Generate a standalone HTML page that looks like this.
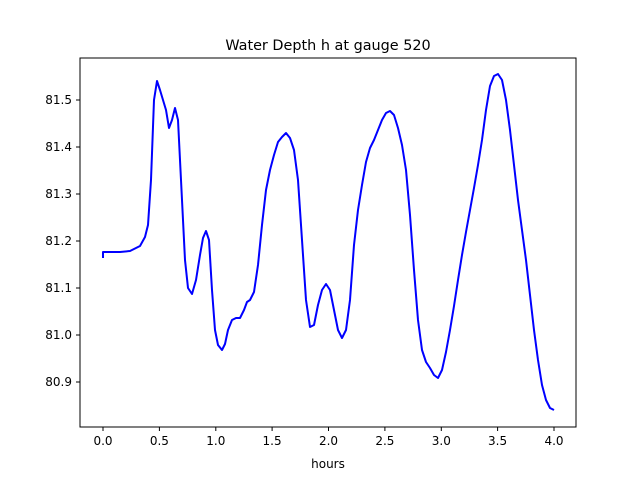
<!DOCTYPE html>
<html><head><meta charset="utf-8"><style>
html,body{margin:0;padding:0;background:#fff;}
svg{display:block;font-family:"DejaVu Sans","Liberation Sans",sans-serif;}
</style></head><body>
<svg width="640" height="480" viewBox="0 0 640 480" xmlns="http://www.w3.org/2000/svg">
<rect width="640" height="480" fill="#fff"/>
<text x="328" y="50" font-size="14.4" text-anchor="middle">Water Depth h at gauge 520</text>
<polyline fill="none" stroke="#0000ff" stroke-width="2" stroke-linejoin="round" points="103,258 103,252 120,252 130,251 140,246 145,237 148,225 151,180 154,100 157,81 160,90 163,100 166,110 169,128 172,120 175,108 178,120 181,180 185,260 188,288 192,294 196,280 200,255 203,238 206,231 209,240 212,290 215,330 218,345 222,350 225,344 228,330 232,320 236,318 240,318 244,310 247,302 250,300 254,292 258,265 262,225 266,190 270,170 274,155 278,142 282,137 286,133 290,138 294,150 298,180 302,240 306,300 310,327 314,325 318,305 322,290 326,284 330,290 334,310 338,330 342,338 346,330 350,300 354,245 358,210 362,185 366,162 370,148 374,140 378,130 382,120 386,113 390,111 394,115 398,128 402,145 406,170 410,215 414,270 418,320 422,350 426,362 430,368 434,375 438,378 442,370 446,352 450,330 454,306 458,280 462,255 466,232 470,210 474,188 478,165 482,140 486,110 490,86 494,76 498,74 502,80 506,100 510,130 514,165 518,200 522,230 526,260 530,295 534,330 538,360 542,385 546,400 550,408 554,410"/>
<rect x="80" y="58" width="496" height="369" fill="none" stroke="#000" stroke-width="1"/>
<g stroke="#000" stroke-width="1">
<line x1="103" y1="427" x2="103" y2="431"/>
<line x1="159.4" y1="427" x2="159.4" y2="431"/>
<line x1="215.8" y1="427" x2="215.8" y2="431"/>
<line x1="272.1" y1="427" x2="272.1" y2="431"/>
<line x1="328.5" y1="427" x2="328.5" y2="431"/>
<line x1="384.9" y1="427" x2="384.9" y2="431"/>
<line x1="441.3" y1="427" x2="441.3" y2="431"/>
<line x1="497.6" y1="427" x2="497.6" y2="431"/>
<line x1="554" y1="427" x2="554" y2="431"/>
<line x1="76" y1="100" x2="80" y2="100"/>
<line x1="76" y1="147" x2="80" y2="147"/>
<line x1="76" y1="194" x2="80" y2="194"/>
<line x1="76" y1="241" x2="80" y2="241"/>
<line x1="76" y1="288" x2="80" y2="288"/>
<line x1="76" y1="335" x2="80" y2="335"/>
<line x1="76" y1="382" x2="80" y2="382"/>
</g>
<g font-size="12" text-anchor="middle">
<text x="103" y="445">0.0</text>
<text x="159.4" y="445">0.5</text>
<text x="215.8" y="445">1.0</text>
<text x="272.1" y="445">1.5</text>
<text x="328.5" y="445">2.0</text>
<text x="384.9" y="445">2.5</text>
<text x="441.3" y="445">3.0</text>
<text x="497.6" y="445">3.5</text>
<text x="554" y="445">4.0</text>
<text x="328" y="468">hours</text>
</g>
<g font-size="12" text-anchor="end">
<text x="72" y="104">81.5</text>
<text x="72" y="151">81.4</text>
<text x="72" y="198">81.3</text>
<text x="72" y="245">81.2</text>
<text x="72" y="292">81.1</text>
<text x="72" y="339">81.0</text>
<text x="72" y="386">80.9</text>
</g>
</svg>
</body></html>
